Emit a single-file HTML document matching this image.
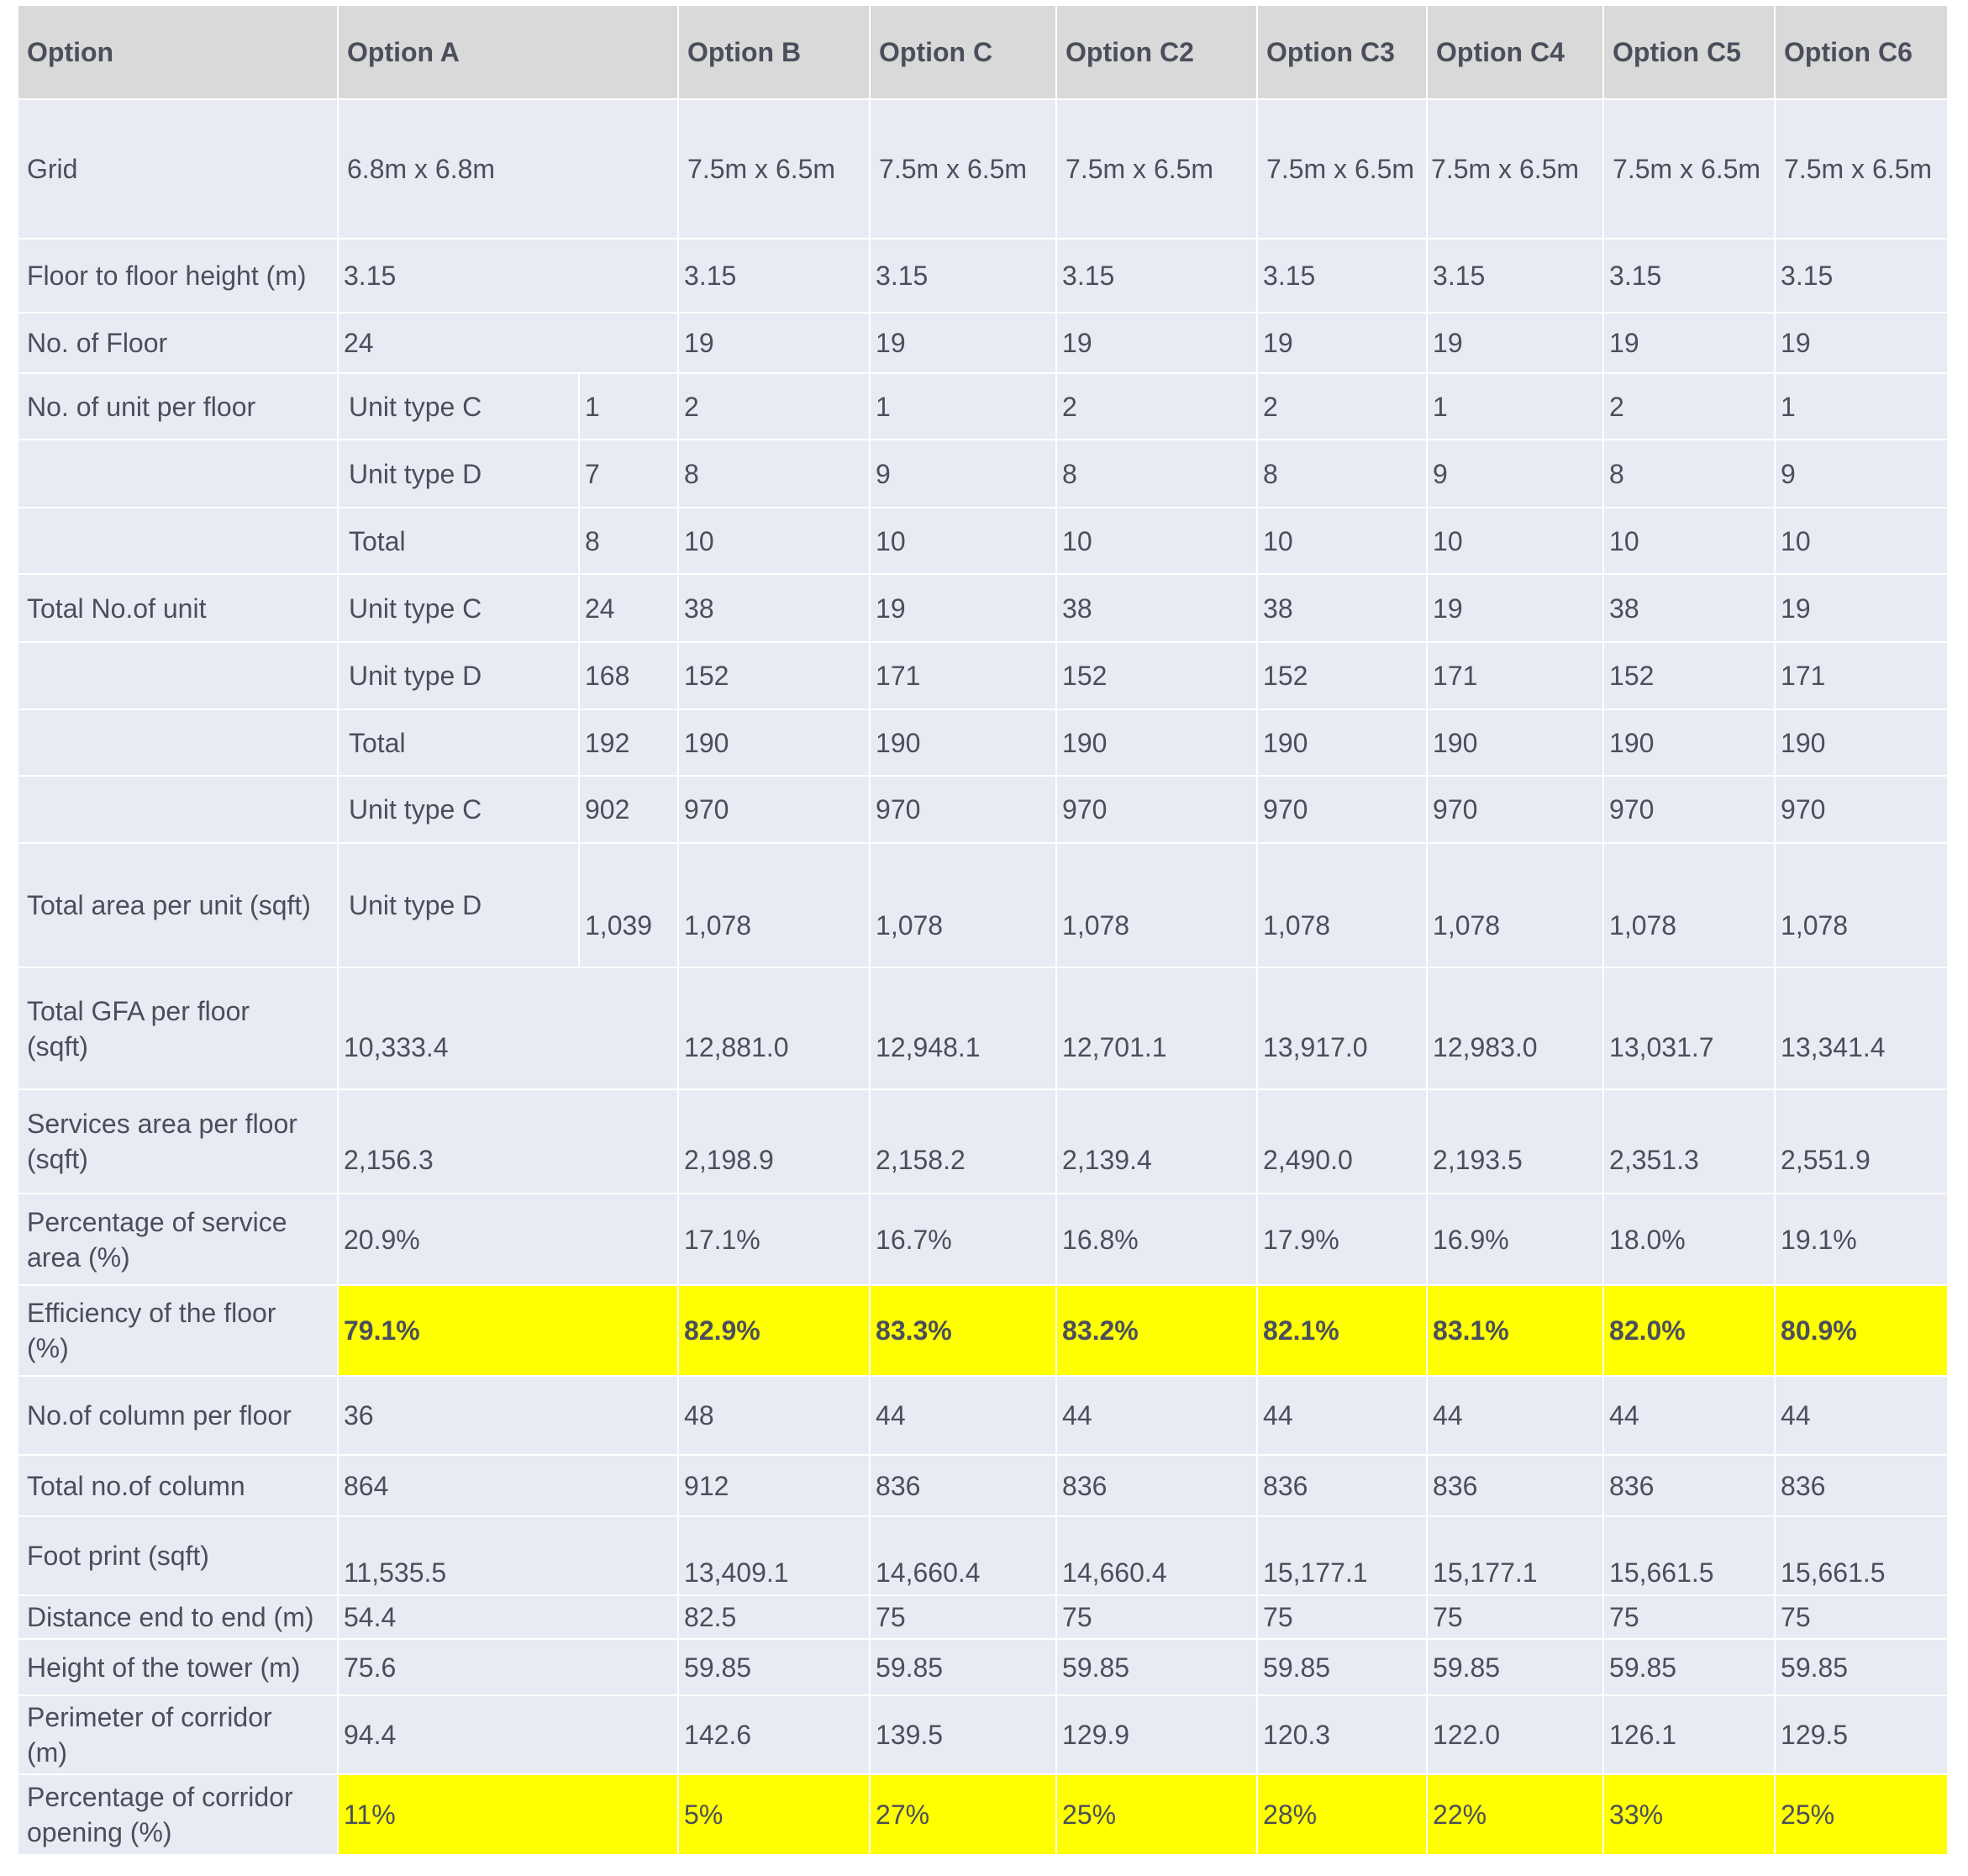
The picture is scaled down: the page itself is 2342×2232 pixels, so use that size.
<!DOCTYPE html>
<html><head><meta charset="utf-8">
<style>
html,body{margin:0;padding:0;background:#fff;width:2342px;height:2232px;overflow:hidden}
table{position:absolute;left:20px;top:5px;border-collapse:collapse;table-layout:fixed;width:2297px;
font-family:"Liberation Sans",sans-serif;font-size:32px;color:#4a4f5b}
td{border:2px solid #fff;background:#e8ebf3;padding:0 0 0 6px;vertical-align:middle;line-height:42px;white-space:nowrap;overflow:hidden}
td.l{padding-left:10px;white-space:normal}
tr.h td{background:#d9d9d9;font-weight:bold;padding-left:10px}
td.y{background:#ffff00;font-weight:bold}
td.yn{background:#ffff00}
.lo td.v{padding-top:44px}
.fp td.v{padding-top:40px}
.ta td.v{padding-top:48px}
</style></head><body>
<table>
<colgroup><col style="width:381px"><col style="width:287px"><col style="width:118px"><col style="width:228px"><col style="width:222px"><col style="width:239px"><col style="width:202px"><col style="width:210px"><col style="width:204px"><col style="width:206px"></colgroup>
<tr class="h" style="height:112px"><td>Option</td><td colspan="2">Option A</td><td>Option B</td><td>Option C</td><td>Option C2</td><td>Option C3</td><td>Option C4</td><td>Option C5</td><td>Option C6</td></tr>
<tr style="height:166px"><td class="l">Grid</td><td colspan="2" style="padding-left:10px">6.8m x 6.8m</td><td style="padding-left:10px">7.5m x 6.5m</td><td style="padding-left:10px">7.5m x 6.5m</td><td style="padding-left:10px">7.5m x 6.5m</td><td style="padding-left:10px">7.5m x 6.5m</td><td style="padding-left:4px">7.5m x 6.5m</td><td style="padding-left:10px">7.5m x 6.5m</td><td style="padding-left:10px">7.5m x 6.5m</td></tr>
<tr style="height:88px"><td class="l">Floor to floor height (m)</td><td colspan="2">3.15</td><td>3.15</td><td>3.15</td><td>3.15</td><td>3.15</td><td>3.15</td><td>3.15</td><td>3.15</td></tr>
<tr style="height:72px"><td class="l">No. of Floor</td><td colspan="2">24</td><td>19</td><td>19</td><td>19</td><td>19</td><td>19</td><td>19</td><td>19</td></tr>
<tr style="height:79px"><td class="l">No. of unit per floor</td><td style="padding-left:12px">Unit type C</td><td>1</td><td>2</td><td>1</td><td>2</td><td>2</td><td>1</td><td>2</td><td>1</td></tr>
<tr style="height:81px"><td class="l"></td><td style="padding-left:12px">Unit type D</td><td>7</td><td>8</td><td>9</td><td>8</td><td>8</td><td>9</td><td>8</td><td>9</td></tr>
<tr style="height:79px"><td class="l"></td><td style="padding-left:12px">Total</td><td>8</td><td>10</td><td>10</td><td>10</td><td>10</td><td>10</td><td>10</td><td>10</td></tr>
<tr style="height:81px"><td class="l">Total No.of unit</td><td style="padding-left:12px">Unit type C</td><td>24</td><td>38</td><td>19</td><td>38</td><td>38</td><td>19</td><td>38</td><td>19</td></tr>
<tr style="height:80px"><td class="l"></td><td style="padding-left:12px">Unit type D</td><td>168</td><td>152</td><td>171</td><td>152</td><td>152</td><td>171</td><td>152</td><td>171</td></tr>
<tr style="height:79px"><td class="l"></td><td style="padding-left:12px">Total</td><td>192</td><td>190</td><td>190</td><td>190</td><td>190</td><td>190</td><td>190</td><td>190</td></tr>
<tr style="height:80px"><td class="l"></td><td style="padding-left:12px">Unit type C</td><td>902</td><td>970</td><td>970</td><td>970</td><td>970</td><td>970</td><td>970</td><td>970</td></tr>
<tr class="ta" style="height:148px"><td class="l" style="white-space:nowrap">Total area per unit (sqft)</td><td style="padding-left:12px">Unit type D</td><td class="v">1,039</td><td class="v">1,078</td><td class="v">1,078</td><td class="v">1,078</td><td class="v">1,078</td><td class="v">1,078</td><td class="v">1,078</td><td class="v">1,078</td></tr>
<tr class="lo" style="height:145px"><td class="l">Total GFA per floor<br>(sqft)</td><td colspan="2" class="v">10,333.4</td><td class="v">12,881.0</td><td class="v">12,948.1</td><td class="v">12,701.1</td><td class="v">13,917.0</td><td class="v">12,983.0</td><td class="v">13,031.7</td><td class="v">13,341.4</td></tr>
<tr class="lo" style="height:124px"><td class="l">Services area per floor<br>(sqft)</td><td colspan="2" class="v">2,156.3</td><td class="v">2,198.9</td><td class="v">2,158.2</td><td class="v">2,139.4</td><td class="v">2,490.0</td><td class="v">2,193.5</td><td class="v">2,351.3</td><td class="v">2,551.9</td></tr>
<tr style="height:109px"><td class="l">Percentage of service<br>area (%)</td><td colspan="2">20.9%</td><td>17.1%</td><td>16.7%</td><td>16.8%</td><td>17.9%</td><td>16.9%</td><td>18.0%</td><td>19.1%</td></tr>
<tr style="height:108px"><td class="l">Efficiency of the floor<br>(%)</td><td colspan="2" class="y">79.1%</td><td class="y">82.9%</td><td class="y">83.3%</td><td class="y">83.2%</td><td class="y">82.1%</td><td class="y">83.1%</td><td class="y">82.0%</td><td class="y">80.9%</td></tr>
<tr style="height:94px"><td class="l">No.of column per floor</td><td colspan="2">36</td><td>48</td><td>44</td><td>44</td><td>44</td><td>44</td><td>44</td><td>44</td></tr>
<tr style="height:73px"><td class="l">Total no.of column</td><td colspan="2">864</td><td>912</td><td>836</td><td>836</td><td>836</td><td>836</td><td>836</td><td>836</td></tr>
<tr class="fp" style="height:94px"><td class="l">Foot print (sqft)</td><td colspan="2" class="v">11,535.5</td><td class="v">13,409.1</td><td class="v">14,660.4</td><td class="v">14,660.4</td><td class="v">15,177.1</td><td class="v">15,177.1</td><td class="v">15,661.5</td><td class="v">15,661.5</td></tr>
<tr style="height:52px"><td class="l">Distance end to end (m)</td><td colspan="2">54.4</td><td>82.5</td><td>75</td><td>75</td><td>75</td><td>75</td><td>75</td><td>75</td></tr>
<tr style="height:67px"><td class="l">Height of the tower (m)</td><td colspan="2">75.6</td><td>59.85</td><td>59.85</td><td>59.85</td><td>59.85</td><td>59.85</td><td>59.85</td><td>59.85</td></tr>
<tr style="height:94px"><td class="l">Perimeter of corridor<br>(m)</td><td colspan="2">94.4</td><td>142.6</td><td>139.5</td><td>129.9</td><td>120.3</td><td>122.0</td><td>126.1</td><td>129.5</td></tr>
<tr style="height:96px"><td class="l">Percentage of corridor<br>opening (%)</td><td colspan="2" class="yn">11%</td><td class="yn">5%</td><td class="yn">27%</td><td class="yn">25%</td><td class="yn">28%</td><td class="yn">22%</td><td class="yn">33%</td><td class="yn">25%</td></tr>
</table>
</body></html>
